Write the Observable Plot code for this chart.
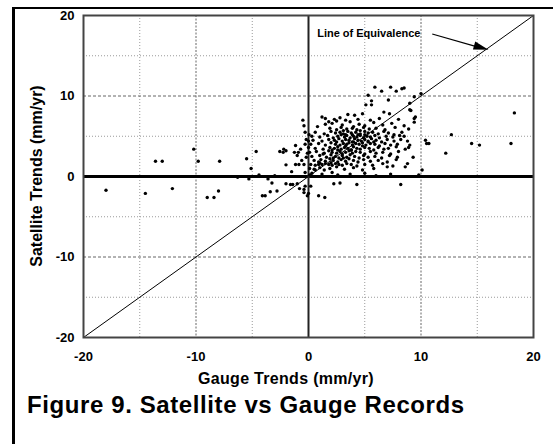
<!DOCTYPE html>
<html><head><meta charset="utf-8">
<script src="https://cdn.jsdelivr.net/npm/d3@7"></script>
<script src="https://cdn.jsdelivr.net/npm/@observablehq/plot@0.6"></script>
<style>
body{margin:0;background:#fff;}
#wrap{position:relative;width:553px;height:444px;overflow:hidden;font-family:"Liberation Sans",Arial,sans-serif;font-weight:bold;color:#000;}
#border{position:absolute;left:12px;top:7px;width:545px;height:440px;border-left:3px solid #000;border-top:2px solid #000;}
#chart{position:absolute;left:0;top:0;}
#title{position:absolute;left:27px;top:393px;font-size:24px;line-height:24px;letter-spacing:0.6px;white-space:nowrap;}
#xlab{position:absolute;left:286px;top:371px;transform:translateX(-50%);font-size:16px;line-height:16px;white-space:nowrap;letter-spacing:0.3px;}
#ylab{position:absolute;left:37px;top:176px;transform:translate(-50%,-50%) rotate(-90deg);font-size:16px;line-height:16px;white-space:nowrap;}
</style></head>
<body>
<div id="wrap">
<div id="border"></div>
<div id="chart"></div>
<div id="xlab">Gauge Trends (mm/yr)</div>
<div id="ylab">Satellite Trends (mm/yr)</div>
<div id="title">Figure 9. Satellite vs Gauge Records</div>
</div>
<script>
const xTicks = [-20, -10, 0, 10, 20];
const yTicks = [-20, -10, 0, 10, 20];
const majorGrid = [-10, 10];
const minorGrid = [-15, -5, 5, 15];
const zeroLine = [0];
const equivalence = [-20, 20];
const annotation = [{x: 0.77, y: 17.8, label: "Line of Equivalence"}];
const arrowShaft = [{x1: 11.0, y1: 17.7, x2: 15.0, y2: 16.1}];
const arrowTip = [{x: 16.0, y: 15.75}];

// [gauge trend, satellite trend] in mm/yr
const stations = [
 [-18.0,-1.7],[-14.5,-2.1],[-13.6,1.9],[-13.0,1.9],[-12.1,-1.5],[-10.2,3.4],[-9.8,1.9],[-9.0,-2.6],[-8.4,-2.6],[-8.0,-1.8],
 [-7.9,1.9],[-6.3,-0.1],[-5.5,2.2],[-5.3,-0.3],[-5.1,1.0],[-4.65,3.1],[-4.4,0.2],[-4.1,-2.4],[-3.85,-2.4],[-3.6,-0.3],
 [-3.4,-1.9],[-3.25,-0.8],[-2.8,-1.8],[-3.0,0.1],[-2.55,3.1],
 [-2.0,-0.9],[-1.6,-1.0],[-1.4,-1.0],[-1.0,-0.9],[-0.8,-1.5],[-0.4,-1.6],[-0.3,-1.2],[-0.1,-2.4],[0.2,-1.2],[0.9,-2.4],
 [1.45,-2.6],[2.25,-0.9],[2.8,-0.8],[4.3,-1.0],[8.2,-1.0],[-0.4,-2.0],[0.0,-2.1],
 [-2.25,3.0],[-2.0,3.2],[-2.2,3.4],[-1.15,3.85],[-1.25,3.0],[-0.9,3.0],[-0.7,3.4],[-2.0,1.45],[-1.15,1.5],[-0.85,1.5],
 [-0.4,1.5],[-0.5,7.0],[-0.4,6.3],[-0.3,5.5],[-0.2,4.6],[-0.3,4.0],[-0.2,2.4],[-1.0,2.6],[-0.6,2.0],[-1.5,0.6],
 [0.0,3.6],[0.05,5.2],[-0.1,2.9],[0.0,4.4],[0.3,0.4],[0.6,0.8],[-0.3,0.5],[0.1,0.2],
 [8.5,11.0],[9.4,9.9],[10.0,10.3],[9.0,9.1],[9.1,8.2],[9.5,7.4],[9.4,6.75],[12.7,5.2],[10.4,4.5],[10.5,4.1],
 [10.7,4.1],[12.2,2.9],[8.5,5.0],[8.8,4.4],[9.0,3.9],[8.9,3.6],[9.3,2.4],[8.8,1.6],[8.6,1.2],[10.1,0.8],
 [14.5,4.1],[15.2,3.9],[18.0,4.1],[18.3,7.9],
 [5.9,11.1],[6.5,10.6],[7.3,11.1],[7.8,10.6],[8.3,10.9],[5.3,10.1],[5.6,9.4],[7.1,9.5],[5.1,8.9],[5.6,8.9],
 [9.0,8.3],[6.7,8.0],[7.2,7.8],[9.4,7.2],
 [2.1,0.5],[2.6,0.2],[3.7,0.3],[6.0,0.1],[7.3,0.3],[9.8,0.2],[5.0,0.4],[1.2,0.3],
 [1.2,7.4],[1.5,7.2],[1.8,6.8],[2.3,7.1],[2.8,7.3],[3.3,7.0],[3.5,7.7],[4.1,7.6],[4.4,7.1],[4.8,7.8],[5.5,7.0],[6.3,7.2],[8.0,7.1],
 [0.8,6.2],[1.5,6.5],[2.1,6.6],[3.0,6.4],[3.7,6.8],[4.5,6.5],[5.0,6.3],[5.8,6.7],[6.6,6.4],[7.4,6.6],[8.5,6.3],[2.5,6.9],[4.0,6.2],
 [1.9,6.0],[2.5,5.8],[2.9,6.1],[3.4,5.9],[3.9,6.0],[4.3,5.8],[4.9,6.1],[5.4,5.9],[6.0,6.0],[6.8,5.8],[7.7,6.1],[8.9,5.9],[3.1,5.7],[4.6,5.7],
 [0.6,5.5],[1.4,5.3],[2.0,5.6],[2.4,5.4],[2.8,5.5],[3.1,5.3],[3.5,5.6],[3.8,5.4],[4.2,5.5],[4.6,5.3],[5.0,5.6],[5.3,5.4],[5.7,5.5],
 [6.2,5.3],[6.7,5.6],[7.1,5.4],[7.6,5.2],[8.3,5.5],[3.3,5.2],[4.4,5.2],
 [0.3,5.0],[1.0,4.9],[1.7,5.1],[2.2,4.8],[2.6,5.0],[2.9,5.2],[3.2,4.9],[3.4,5.1],[3.7,4.8],[4.0,5.0],[4.3,4.9],[4.6,5.1],[4.9,4.8],
 [5.2,5.0],[5.5,4.9],[5.9,5.1],[6.3,4.8],[6.9,5.0],[7.5,4.9],[8.1,5.1],[3.9,5.2],[5.0,5.2],
 [0.4,4.5],[1.2,4.4],[1.8,4.6],[2.3,4.5],[2.7,4.7],[3.0,4.4],[3.3,4.6],[3.6,4.5],[3.9,4.3],[4.1,4.7],[4.4,4.5],[4.7,4.4],[5.0,4.6],
 [5.3,4.4],[5.6,4.7],[6.0,4.5],[6.5,4.3],[7.0,4.6],[7.6,4.4],[8.2,4.6],[2.5,4.3],[4.9,4.8],[5.8,4.3],
 [0.2,4.0],[0.9,4.1],[1.5,3.9],[2.0,4.2],[2.4,4.0],[2.8,3.9],[3.1,4.1],[3.4,4.0],[3.6,4.2],[3.9,3.9],[4.2,4.1],[4.5,4.0],[4.8,4.2],
 [5.1,3.9],[5.5,4.1],[5.9,4.0],[6.3,3.8],[6.8,4.1],[7.3,3.9],[7.9,4.0],[3.3,3.8],[4.0,4.3],[5.3,4.3],
 [0.6,3.5],[1.3,3.4],[1.9,3.6],[2.3,3.5],[2.6,3.7],[2.9,3.4],[3.2,3.6],[3.5,3.5],[3.8,3.3],[4.0,3.7],[4.3,3.5],[4.6,3.4],[5.0,3.6],
 [5.4,3.5],[5.8,3.3],[6.2,3.6],[6.7,3.4],[7.1,3.5],[7.8,3.7],[8.6,3.4],[2.1,3.3],[4.8,3.8],
 [0.1,3.0],[0.7,3.1],[1.4,2.9],[1.8,3.2],[2.1,3.0],[2.5,2.9],[2.8,3.1],[3.0,2.8],[3.3,3.0],[3.6,3.2],[3.9,2.9],[4.2,3.1],[4.6,3.0],
 [5.0,2.8],[5.5,3.1],[6.0,2.9],[6.6,3.0],[7.3,2.8],[8.0,3.1],[2.6,3.3],[3.8,3.3],
 [0.3,2.5],[1.0,2.6],[1.6,2.4],[2.0,2.7],[2.4,2.5],[2.7,2.3],[3.0,2.6],[3.4,2.4],[3.7,2.7],[4.1,2.5],[4.5,2.3],[4.9,2.6],[5.3,2.4],
 [5.9,2.5],[6.5,2.3],[7.2,2.6],[7.9,2.4],[1.3,2.8],[2.2,2.3],
 [0.5,2.0],[1.1,2.1],[1.5,1.9],[1.9,2.2],[2.2,2.0],[2.6,1.8],[2.9,2.1],[3.3,1.9],[3.6,2.2],[4.0,2.0],[4.4,1.8],[4.9,2.1],[5.5,1.9],
 [6.2,2.0],[7.0,1.8],[7.8,2.1],[0.9,1.8],[3.1,2.3],
 [0.2,1.5],[0.6,1.4],[0.9,1.5],[1.2,1.5],[1.5,1.6],[1.8,1.5],[2.1,1.4],[2.4,1.6],[2.7,1.5],[3.0,1.4],[3.4,1.6],[3.8,1.5],[4.3,1.3],
 [5.0,1.5],[5.7,1.4],[6.6,1.6],[7.5,1.3],[1.0,1.7],[2.0,1.7],
 [0.1,1.0],[0.5,0.9],[1.0,1.1],[1.4,0.8],[1.9,1.0],[2.5,1.2],[3.2,0.9],[4.0,1.1],[4.8,0.8],[5.8,1.0],[7.0,1.2]
];

const arrowHead = {
  draw(context) {
    context.moveTo(0, 0);
    context.lineTo(-4.2, 15);
    context.lineTo(4.2, 15);
    context.closePath();
  }
};

const chart = Plot.plot({
  width: 553,
  height: 395,
  marginLeft: 83,
  marginRight: 20,
  marginTop: 15,
  marginBottom: 58,
  style: {fontFamily: "'Liberation Sans', Arial, sans-serif", fontWeight: "bold", fontSize: "13px", color: "#000", background: "transparent"},
  x: {domain: [-20, 20], ticks: xTicks, tickSize: 0, tickPadding: 14, tickFormat: d => String(d), label: null},
  y: {domain: [-20, 20], ticks: yTicks, tickSize: 0, tickPadding: 9, tickFormat: d => String(d), label: null},
  marks: [
    Plot.ruleY(minorGrid, {stroke: "#9a9a9a", strokeDasharray: "1,2", strokeWidth: 1}),
    Plot.ruleX(minorGrid, {stroke: "#9a9a9a", strokeDasharray: "1,2", strokeWidth: 1}),
    Plot.ruleY(majorGrid, {stroke: "#666", strokeDasharray: "3,2", strokeWidth: 1}),
    Plot.ruleX(majorGrid, {stroke: "#666", strokeDasharray: "2,1.5", strokeWidth: 1}),
    Plot.line(equivalence, {x: d => d, y: d => d, stroke: "#000", strokeWidth: 1}),
    Plot.ruleY(zeroLine, {stroke: "#000", strokeWidth: 3}),
    Plot.ruleX(zeroLine, {stroke: "#222", strokeWidth: 2}),
    Plot.dot(stations, {x: d => d[0], y: d => d[1], r: 1.7, fill: "#000", stroke: "none"}),
    Plot.frame({stroke: "#444", strokeWidth: 2}),
    Plot.text(annotation, {x: "x", y: "y", text: "label", textAnchor: "start", fontSize: 11, fontWeight: "bold", fill: "#000"}),
    Plot.link(arrowShaft, {x1: "x1", y1: "y1", x2: "x2", y2: "y2", stroke: "#000", strokeWidth: 1.2}),
    Plot.dot(arrowTip, {x: "x", y: "y", symbol: arrowHead, r: 3, rotate: 106, fill: "#000", stroke: "none"})
  ]
});
document.getElementById("chart").appendChild(chart);
</script>
</body></html>
